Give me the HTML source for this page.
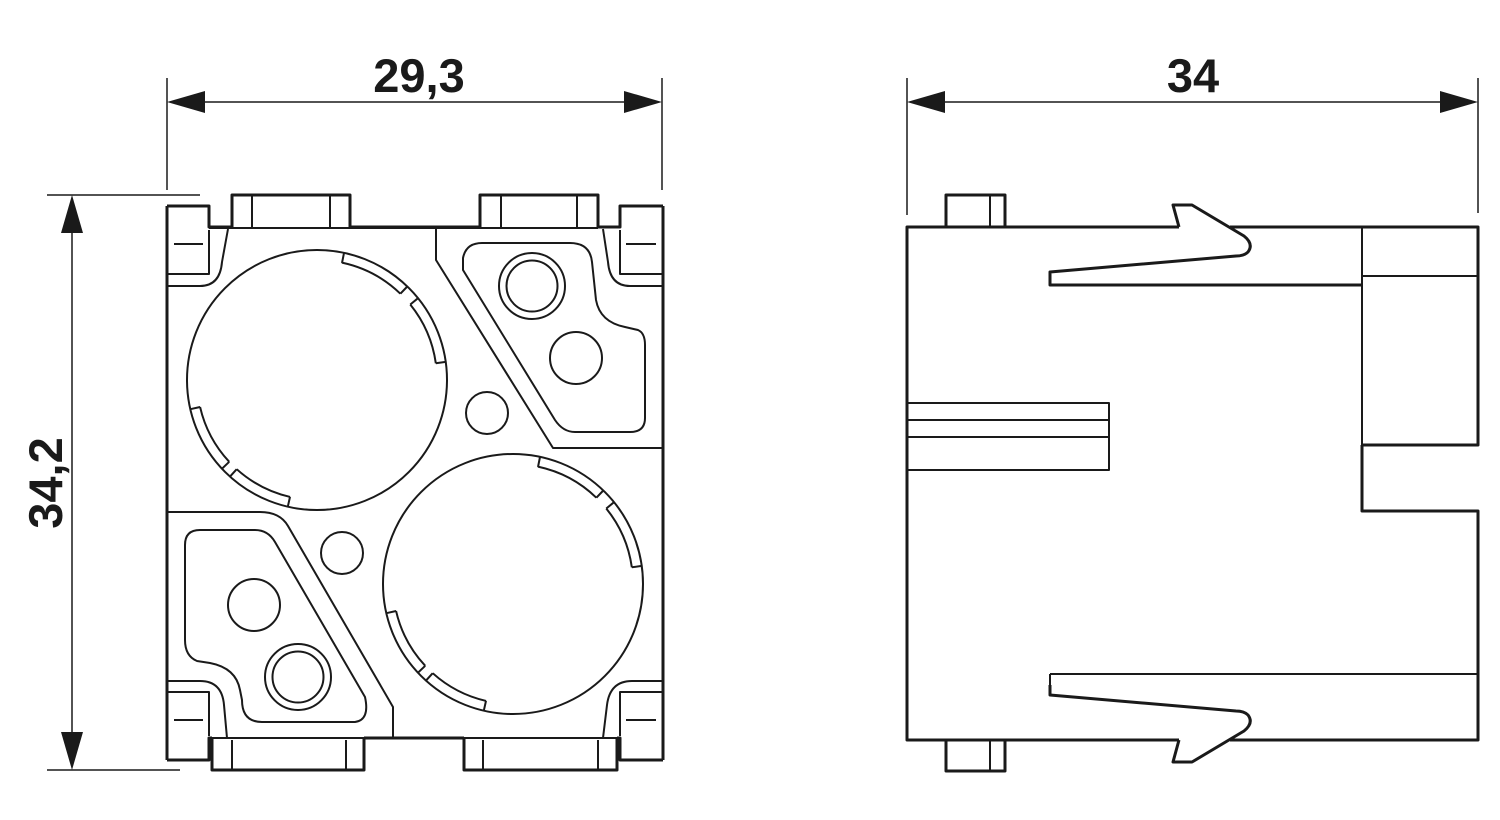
<!DOCTYPE html>
<html><head><meta charset="utf-8"><style>html,body{margin:0;padding:0;background:#fff}svg{display:block}</style></head>
<body>
<svg width="1500" height="820" viewBox="0 0 1500 820" xmlns="http://www.w3.org/2000/svg" fill="none" stroke="#1a1a1a" stroke-linejoin="round">
<!-- Dimensions -->
<g stroke-width="1.5">
<line x1="167" y1="78" x2="167" y2="190"/><line x1="662" y1="78" x2="662" y2="190"/>
<line x1="200" y1="102" x2="630" y2="102"/>
<line x1="907" y1="78" x2="907" y2="215"/><line x1="1478" y1="78" x2="1478" y2="213"/>
<line x1="940" y1="102" x2="1445" y2="102"/>
<line x1="47" y1="195" x2="200" y2="195"/><line x1="47" y1="770" x2="180" y2="770"/>
<line x1="72" y1="230" x2="72" y2="735"/>
</g>
<g fill="#1a1a1a" stroke="none">
<polygon points="167,102 205,91 205,113"/><polygon points="662,102 624,91 624,113"/>
<polygon points="907,102 945,91 945,113"/><polygon points="1478,102 1440,91 1440,113"/>
<polygon points="72,195 61,233 83,233"/><polygon points="72,770 61,732 83,732"/>
</g>
<g fill="#1a1a1a" stroke="none" font-family="Liberation Sans, sans-serif" font-weight="bold" font-size="47">
<text x="419" y="92" text-anchor="middle">29,3</text>
<text x="1193" y="92" text-anchor="middle">34</text>
<text transform="translate(62,483) rotate(-90)" text-anchor="middle">34,2</text>
</g>

<!-- LEFT VIEW -->
<g stroke-width="3">
<line x1="167" y1="206" x2="167" y2="760"/><line x1="663" y1="206" x2="663" y2="760"/>
<polyline points="167,206 209,206 209,227 232,227"/>
<polyline points="663,206 620,206 620,227 598,227"/>
<line x1="350" y1="227" x2="480" y2="227"/>
<polyline points="232,227 232,195 350,195 350,227"/>
<polyline points="480,227 480,195 598,195 598,227"/>
<polyline points="167,760 209,760 209,738 212,738"/>
<polyline points="663,760 620,760 620,738 617,738"/>
<line x1="364" y1="738" x2="464" y2="738"/>
<polyline points="212,738 212,770 364,770 364,738"/>
<polyline points="464,738 464,770 617,770 617,738"/>
</g>
<g stroke-width="2">
<line x1="209" y1="228" x2="598" y2="228"/><line x1="212" y1="738" x2="617" y2="738"/>
<line x1="252" y1="196" x2="252" y2="227"/><line x1="330" y1="196" x2="330" y2="227"/>
<line x1="501" y1="196" x2="501" y2="227"/><line x1="577" y1="196" x2="577" y2="227"/>
<line x1="232" y1="740" x2="232" y2="769"/><line x1="346" y1="740" x2="346" y2="769"/>
<line x1="483" y1="740" x2="483" y2="769"/><line x1="598" y1="740" x2="598" y2="769"/>
<polyline points="167,274 209,274 209,230"/><polyline points="663,274 620,274 620,230"/>
<polyline points="167,692 209,692 209,736"/><polyline points="663,692 620,692 620,736"/>
<line x1="174" y1="244" x2="203" y2="244"/><line x1="626" y1="244" x2="656" y2="244"/>
<line x1="174" y1="720" x2="203" y2="720"/><line x1="626" y1="720" x2="656" y2="720"/>
<path d="M167,286 L200,286 Q220,286 222,262 L228,229"/>
<path d="M663,286 L630,286 Q610,286 608,262 L603,229"/>
<path d="M167,681 L200,681 Q222,681 224,705 L227,738"/>
<path d="M663,681 L632,681 Q610,681 607,705 L603,738"/>
<polyline points="436,229 436,260 553,448 663,448"/>
<path d="M463,270 L463,258 Q466,243 482,243 L570,243 Q590,243 592,262 L596,300 Q600,322 625,327 L638,330 Q645,333 645,345 L645,418 Q645,432 630,432 L575,432 Q563,432 555,420 Z"/>
<circle cx="532" cy="286" r="33"/><circle cx="532" cy="286" r="25.5"/>
<circle cx="576" cy="358" r="26"/>
<circle cx="487" cy="413" r="21"/>
<path d="M167,512 L260,512 Q280,512 288,526 L393,707 L393,738"/>
<path d="M185,545 Q185,530 200,530 L255,530 Q268,530 275,542 L365,697 Q370,720 355,722 L262,722 Q242,722 242,700 L240,690 Q236,668 210,663 L197,661 Q185,656 185,640 Z"/>
<circle cx="298" cy="677" r="33"/><circle cx="298" cy="677" r="25.5"/>
<circle cx="254" cy="605" r="26"/>
<circle cx="342" cy="553" r="21"/>
<circle cx="317" cy="380" r="130"/>
<circle cx="513" cy="584" r="130"/>
<circle cx="317" cy="380" r="120" stroke-dasharray="0 224.7 63.3 10.9 65.5 250.9 69.8 15.3 67.6 17.5" pathLength="785.5"/>
<circle cx="513" cy="584" r="120" stroke-dasharray="0 224.7 63.3 10.9 65.5 250.9 69.8 15.3 67.6 17.5" pathLength="785.5"/>
<path transform="translate(317,380)" d="M25,-117L27,-127M83.4,-86.3L90.3,-93.5M93.3,-75.5L101,-81.8M118.8,-16.7L128.7,-18.1M-27,116.9L-29.2,126.7M-80.3,89.2L-87,96.6M-87.8,81.8L-95,88.7M-116.9,27L-126.7,29.2"/>
<path transform="translate(513,584)" d="M25,-117L27,-127M83.4,-86.3L90.3,-93.5M93.3,-75.5L101,-81.8M118.8,-16.7L128.7,-18.1M-27,116.9L-29.2,126.7M-80.3,89.2L-87,96.6M-87.8,81.8L-95,88.7M-116.9,27L-126.7,29.2"/>
</g>

<!-- RIGHT VIEW -->
<g stroke-width="3">
<polyline points="1179,227 907,227 907,740 1179,740"/>
<polyline points="1230,227 1478,227 1478,445 1362,445"/>
<polyline points="1362,445 1362,511 1478,511 1478,740 1230,740"/>
<polyline points="946,227 946,195 1005,195 1005,227"/>
<polyline points="946,740 946,771 1005,771 1005,740"/>
<path d="M1179,227 L1173,205 L1192,205 L1244,236 Q1254,244 1248,252 Q1244,256 1236,256 L1050,272 L1050,285 L1362,285"/>
<path d="M1179,740 L1173,762 L1192,762 L1244,731 Q1254,723 1248,715 Q1244,711 1236,711 L1050,695 L1050,685"/>
</g>
<g stroke-width="2">
<line x1="990" y1="196" x2="990" y2="227"/><line x1="990" y1="741" x2="990" y2="770"/>
<line x1="1362" y1="228" x2="1362" y2="445"/>
<line x1="1362" y1="276" x2="1478" y2="276"/>
<line x1="1050" y1="674" x2="1478" y2="674"/>
<line x1="1050" y1="674" x2="1050" y2="686"/>
<polyline points="907,403 1109,403 1109,470 907,470"/>
<line x1="907" y1="420" x2="1109" y2="420"/><line x1="907" y1="437" x2="1109" y2="437"/>
</g>
</svg>
</body></html>
